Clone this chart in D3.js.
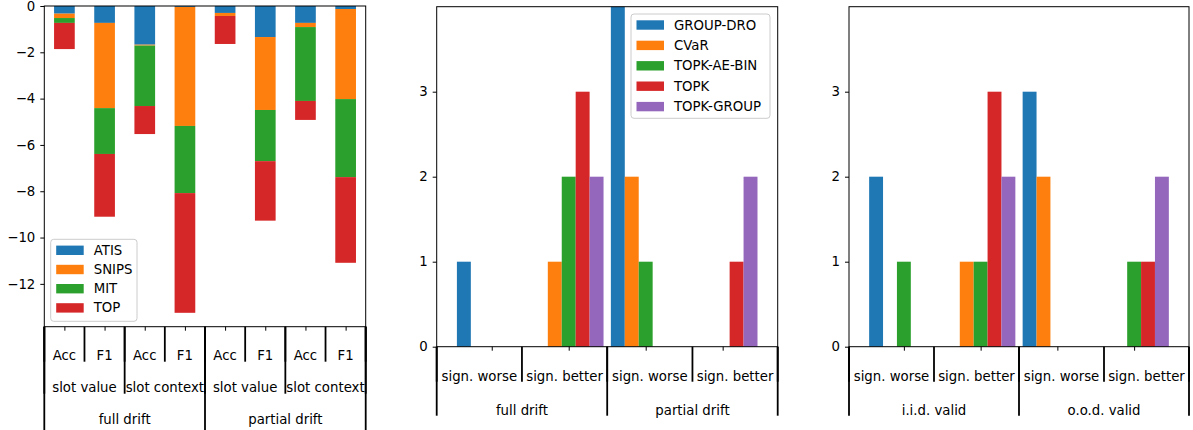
<!DOCTYPE html>
<html>
<head>
<meta charset="utf-8">
<script src="https://cdn.jsdelivr.net/npm/d3@7"></script>
<style>
  body { margin: 0; background: #fff; }
  text { font-family: "DejaVu Sans", sans-serif; fill: #000; }
</style>
</head>
<body>
<div class="chart"></div>
<script>
// ---------------- data ----------------
// left panel: stacked drops per dataset
var leftCats = ["Acc", "F1", "Acc", "F1", "Acc", "F1", "Acc", "F1"];
var leftMid = ["slot value", "slot context", "slot value", "slot context"];
var leftTop = ["full drift", "partial drift"];
var datasets = ["ATIS", "SNIPS", "MIT", "TOP"];
var atisVals  = [-0.33, -0.73, -1.67, -0.04, -0.30, -1.34, -0.73, -0.13];
var snipsVals = [-0.19, -3.68, -0.04, -5.14, -0.13, -3.15, -0.18, -3.89];
var mitVals   = [-0.21, -1.98, -2.61, -2.90,  0.00, -2.21, -3.19, -3.37];
var topVals   = [-1.13, -2.71, -1.21, -5.17, -1.21, -2.57, -0.82, -3.70];
var leftTicks = [0, -2, -4, -6, -8, -10, -12];

// middle + right panels: counts per method
var methods = ["GROUP-DRO", "CVaR", "TOPK-AE-BIN", "TOPK", "TOPK-GROUP"];
var signGroups = ["sign. worse", "sign. better", "sign. worse", "sign. better"];
var driftOuter = ["full drift", "partial drift"];
var validOuter = ["i.i.d. valid", "o.o.d. valid"];
var driftGroupDro  = [1, 0, 4, 0];
var driftCvar      = [0, 1, 2, 0];
var driftAeBin     = [0, 2, 1, 0];
var driftTopk      = [0, 3, 0, 1];
var driftTopkGroup = [0, 2, 0, 2];
var validGroupDro  = [2, 0, 3, 0];
var validCvar      = [0, 1, 2, 0];
var validAeBin     = [1, 1, 0, 1];
var validTopk      = [0, 3, 0, 1];
var validTopkGroup = [0, 2, 0, 2];
var countTicks = [0, 1, 2, 3];

var colors = ["#1f77b4", "#ff7f0e", "#2ca02c", "#d62728", "#9467bd"];

// ---------------- svg ----------------
var svg = d3.select(".chart").append("svg")
  .attr("width", 1193)
  .attr("height", 430);

// multi level category labels with separator lines under the x axis
function drawLevels(g, x0, x1, yBase, levels, lineEnds, textOffs) {
  levels.forEach(function(labels, li) {
    var n = labels.length;
    var step = (x1 - x0) / n;
    for (var k = 0; k <= n; k++) {
      g.append("line")
        .attr("x1", x0 + k * step).attr("x2", x0 + k * step)
        .attr("y1", yBase).attr("y2", yBase + lineEnds[li])
        .attr("stroke", "#000").attr("stroke-width", 1.8);
    }
    labels.forEach(function(t, k) {
      g.append("text")
        .attr("x", x0 + (k + 0.5) * step)
        .attr("y", yBase + textOffs[li])
        .attr("text-anchor", "middle")
        .attr("dominant-baseline", "central")
        .style("font-size", "13.3px")
        .text(t);
    });
  });
}

function drawYAxis(g, y, x0, ticks) {
  var ax = g.append("g")
    .attr("transform", `translate(${x0},0)`)
    .call(d3.axisLeft(y).tickValues(ticks).tickSize(4).tickPadding(5)
      .tickFormat(d => d < 0 ? "\u2212" + Math.abs(d) : d));
  ax.select(".domain").remove();
  ax.selectAll("text").style("font-size", "13.3px").attr("fill", "#000");
  ax.selectAll("line").attr("stroke", "#000");
}

function drawLegend(g, x, y, w, h, names, rowH) {
  var lg = g.append("g").attr("transform", `translate(${x},${y})`);
  lg.append("rect")
    .attr("width", w).attr("height", h)
    .attr("rx", 3)
    .attr("fill", "#fff").attr("fill-opacity", 0.8)
    .attr("stroke", "#ccc");
  names.forEach(function(nm, i) {
    var cy = 11 + i * rowH;
    lg.append("rect")
      .attr("x", 5.5).attr("y", cy - 4.7)
      .attr("width", 27.5).attr("height", 9.4)
      .attr("fill", colors[i]);
    lg.append("text")
      .attr("x", 43).attr("y", cy)
      .attr("dominant-baseline", "central")
      .style("font-size", "13.3px")
      .text(nm);
  });
}

// ---------------- left panel: stacked bars ----------------
(function() {
  var x0 = 44.3, x1 = 365.7, yT = 6, yB = 326.7;
  var g = svg.append("g");
  var x = d3.scaleLinear().domain([-0.5, 7.5]).range([x0, x1]);
  var y = d3.scaleLinear().domain([-13.85, 0]).range([yB, yT]);

  var table = leftCats.map((c, i) => ({
    i: i, ATIS: atisVals[i], SNIPS: snipsVals[i], MIT: mitVals[i], TOP: topVals[i]
  }));
  var series = d3.stack().keys(datasets).offset(d3.stackOffsetDiverging)(table);

  series.forEach(function(s, si) {
    g.append("g").selectAll("rect")
      .data(s)
      .enter()
      .append("rect")
      .attr("x", d => x(d.data.i - 0.257))
      .attr("width", x(0.515) - x(0))
      .attr("y", d => y(Math.max(d[0], d[1])))
      .attr("height", d => Math.abs(y(d[0]) - y(d[1])))
      .attr("fill", colors[si]);
  });

  g.append("rect")
    .attr("x", x0).attr("y", yT).attr("width", x1 - x0).attr("height", yB - yT)
    .attr("fill", "none").attr("stroke", "#000").attr("stroke-width", 1);

  drawYAxis(g, y, x0, leftTicks);

  var xa = g.append("g")
    .attr("transform", `translate(0,${yB})`)
    .call(d3.axisBottom(x).tickValues(d3.range(leftCats.length)).tickSize(4).tickFormat(""));
  xa.select(".domain").remove();
  xa.selectAll("line").attr("stroke", "#000");

  drawLevels(g, x0, x1, yB, [leftCats, leftMid, leftTop], [35, 67, 104], [29, 61, 93]);
  drawLegend(g, 50.7, 239.3, 86.3, 82, datasets, 19.2);
})();

// ---------------- middle / right panels: grouped bars ----------------
function drawGrouped(x0, x1, seriesVals, outer, withLegend) {
  var yT = 6.7, yB = 346.7;
  var g = svg.append("g");
  var x = d3.scaleLinear().domain([-0.715, 3.715]).range([x0, x1]);
  var y = d3.scaleLinear().domain([0, 4]).range([yB, yT]);
  var bw = 0.181;

  seriesVals.forEach(function(vals, si) {
    g.append("g").selectAll("rect")
      .data(vals)
      .enter()
      .append("rect")
      .attr("x", (d, i) => x(i - 2.5 * bw + si * bw))
      .attr("width", x(bw) - x(0))
      .attr("y", d => y(d))
      .attr("height", d => yB - y(d))
      .attr("fill", colors[si]);
  });

  g.append("rect")
    .attr("x", x0).attr("y", yT).attr("width", x1 - x0).attr("height", yB - yT)
    .attr("fill", "none").attr("stroke", "#000").attr("stroke-width", 1);

  drawYAxis(g, y, x0, countTicks);

  var xa = g.append("g")
    .attr("transform", `translate(0,${yB})`)
    .call(d3.axisBottom(x).tickValues(d3.range(signGroups.length)).tickSize(4).tickFormat(""));
  xa.select(".domain").remove();
  xa.selectAll("line").attr("stroke", "#000");

  drawLevels(g, x0, x1, yB, [signGroups, outer], [35, 69], [30, 64]);

  if (withLegend) drawLegend(g, 631, 14, 139, 104.3, methods, 20.4);
}

drawGrouped(436.7, 777.7,
  [driftGroupDro, driftCvar, driftAeBin, driftTopk, driftTopkGroup], driftOuter, true);
drawGrouped(849, 1189,
  [validGroupDro, validCvar, validAeBin, validTopk, validTopkGroup], validOuter, false);
</script>
</body>
</html>
